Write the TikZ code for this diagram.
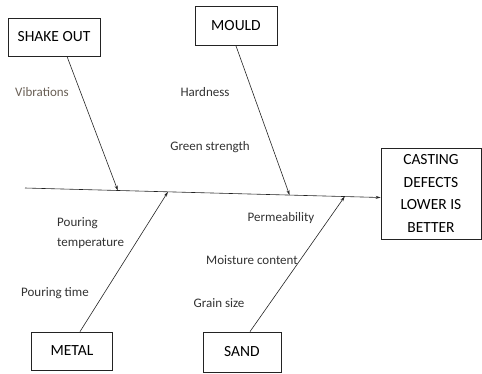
\documentclass[tikz,border=0pt]{standalone}
\usepackage{fontspec}
\setmainfont{Carlito}
\usepackage{tikz}
\usetikzlibrary{arrows.meta, calc}
\usepackage{xcolor}
\definecolor{fishink}{RGB}{35,35,35}
\definecolor{fishlabel}{RGB}{50,50,50}
\definecolor{fishbrown}{RGB}{105,95,85}

\begin{document}
\begin{tikzpicture}[
  x=1pt, y=-1pt,
  cause/.style={draw=fishink, fill=white, line width=0.8pt, inner sep=0pt,
                font=\fontsize{15.5}{22.5}\selectfont},
  effect/.style={cause, minimum width=100pt, minimum height=91pt, align=center},
  factor/.style={font=\fontsize{13}{20}\selectfont, fishlabel, inner sep=0pt},
  bone/.style={-{Stealth[length=5pt, width=3pt]}, fishink, line width=0.6pt},
]
  \useasboundingbox (0,0) rectangle (482,373);

  % Boxes
  \node[cause, minimum width=92pt, minimum height=38pt] (shake) at (54,37) {SHAKE OUT};
  \node[cause, minimum width=82pt, minimum height=39pt] (mould) at (236,26) {MOULD};
  \node[cause, minimum width=81pt, minimum height=38pt] (metal) at (72,351) {METAL};
  \node[cause, minimum width=78pt, minimum height=40pt] (sand) at (242,352) {SAND};
  \node[effect] (defects) at (431,193.5) {CASTING\\DEFECTS\\LOWER IS\\BETTER};

  % Spine
  \coordinate (tail) at (25,188);
  \coordinate (head) at ([yshift=-4pt]defects.west);
  \draw[bone] (tail) -- (head);

  % Points on the spine
  \coordinate (pshake) at ($(tail)!0.261!(head)$);
  \coordinate (pmould) at ($(tail)!0.744!(head)$);
  \coordinate (pmetal) at ($(tail)!0.402!(head)$);
  \coordinate (psand) at ($(tail)!0.899!(head)$);

  % Bones
  \draw[bone] ([xshift=13pt]shake.south) -- (pshake);
  \draw[bone] (mould.south) -- (pmould);
  \draw[bone] ([xshift=8pt]metal.north) -- (pmetal);
  \draw[bone] ([xshift=8pt]sand.north) -- (psand);

  % Factor labels
  \node[factor, fishbrown] (vib) at (42,92) {Vibrations};
  \node[factor] (hard) at (205,92) {Hardness};
  \node[factor] (green) at (210,147) {Green strength};
  \node[factor, anchor=west, align=left] (ptemp) at (57,233) {Pouring\\temperature};
  \node[factor] (ptime) at (55,293) {Pouring time};
  \node[factor] (perm) at (281,218) {Permeability};
  \node[factor] (moist) at (252,260) {Moisture content};
  \node[factor] (grain) at (219,303) {Grain size};
\end{tikzpicture}
\end{document}
